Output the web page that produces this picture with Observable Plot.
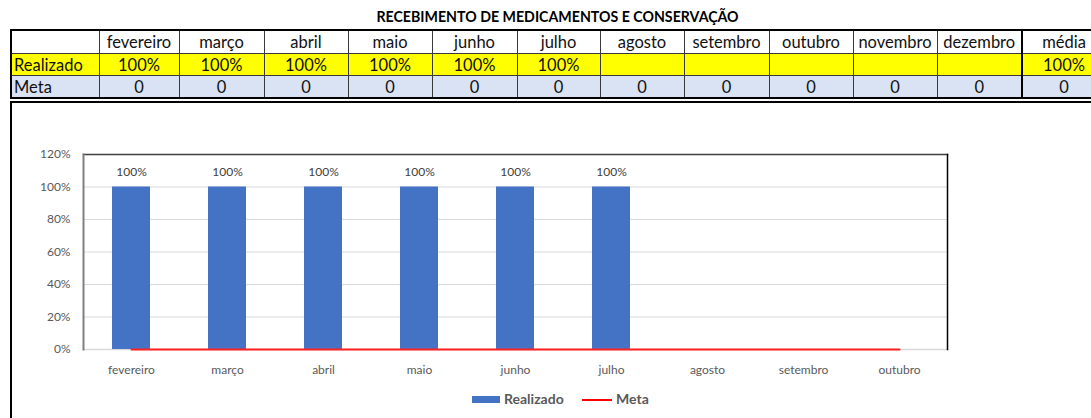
<!DOCTYPE html>
<html>
<head>
<meta charset="utf-8">
<script src="https://cdn.jsdelivr.net/npm/d3@7"></script>
<script src="https://cdn.jsdelivr.net/npm/@observablehq/plot@0.6"></script>
<style>
  html, body { margin: 0; padding: 0; background: #fff; width: 1091px; height: 418px; overflow: hidden; position: relative; font-family: Lato, "Open Sans", sans-serif; }
  #title { position: absolute; left: 10px; top: 8px; width: 1095px; text-align: center; font-weight: bold; font-size: 14.2px; color: #000; line-height: 18px; }
  #tbl { position: absolute; left: 10px; top: 29px; width: 1095px; border-collapse: collapse; table-layout: fixed; font-size: 16.5px; color: #111; }
  #tbl td { border: 1px solid #3a3a3a; padding: 0 2px; text-align: center; white-space: nowrap; overflow: hidden; line-height: 18px; }
  #tbl tr.h td { height: 22px; background: #fff; }
  #tbl tr.r td { height: 21px; background: #ffff00; }
  #tbl tr.m td { height: 21px; background: #dae3f3; }
  #tbl td.lbl { text-align: left; }
  #tbl td.med { border-left: 2px solid #000; }
  #tbl { border: 2px solid #000; }
  #box { position: absolute; left: 10px; top: 101px; width: 1100px; height: 340px; border: 2px solid #000; box-sizing: border-box; }
  #chart { position: absolute; left: 12px; top: 104px; }
  #legend { position: absolute; left: 0; top: 390px; width: 1091px; height: 20px; font-size: 14px; font-weight: bold; color: #595959; }
  #legend .sw { position: absolute; }
  #legend .tx { position: absolute; top: 0; line-height: 18px; }
</style>
</head>
<body>
<div id="title">RECEBIMENTO DE MEDICAMENTOS E CONSERVAÇÃO</div>
<table id="tbl"></table>
<div id="box"></div>
<div id="chart"></div>
<div id="legend">
  <div class="sw" style="left:472px; top:6px; width:28px; height:7px; background:#4472c4;"></div>
  <div class="tx" style="left:504px;">Realizado</div>
  <div class="sw" style="left:582px; top:9px; width:30px; height:2px; background:#ff0000;"></div>
  <div class="tx" style="left:616px;">Meta</div>
</div>
<script>
// ---- data ----
const title = "RECEBIMENTO DE MEDICAMENTOS E CONSERVAÇÃO";
const months = ["fevereiro","março","abril","maio","junho","julho","agosto","setembro","outubro","novembro","dezembro"];
const realizado = [1, 1, 1, 1, 1, 1, null, null, null, null, null];
const meta = [0, 0, 0, 0, 0, 0, 0, 0, 0, 0, 0];
const mediaLabel = "média";
const mediaRealizado = 1;
const mediaMeta = 0;
const chartMonthCount = 9; // fevereiro .. outubro shown in the chart
const yTicks = [0, 0.2, 0.4, 0.6, 0.8, 1.0, 1.2];
const seriesNames = ["Realizado", "Meta"];

const pct = d3.format(".0%");

// ---- table ----
const colWidths = [88, 80, 85, 84, 84, 85, 83, 84, 85, 84, 84, 85, 84];
const tbl = document.getElementById("tbl");
const cg = document.createElement("colgroup");
colWidths.forEach(w => { const c = document.createElement("col"); c.style.width = w + "px"; cg.appendChild(c); });
tbl.appendChild(cg);
function row(cls, first, cells, last) {
  const tr = document.createElement("tr");
  tr.className = cls;
  const f = document.createElement("td"); f.className = "lbl"; f.textContent = first; tr.appendChild(f);
  cells.forEach(v => { const td = document.createElement("td"); td.textContent = v; tr.appendChild(td); });
  const l = document.createElement("td"); l.className = "med"; l.textContent = last; tr.appendChild(l);
  tbl.appendChild(tr);
}
row("h", "", months, mediaLabel);
row("r", seriesNames[0], realizado.map(v => v == null ? "" : pct(v)), pct(mediaRealizado));
row("m", seriesNames[1], meta.map(v => String(v)), String(mediaMeta));

// ---- chart ----
const chartMonths = months.slice(0, chartMonthCount);
const data = chartMonths.map((m, i) => ({month: m, realizado: realizado[i], meta: meta[i]}));

const chart = Plot.plot({
  width: 1079,
  height: 314,
  marginLeft: 71,
  marginTop: 50,
  marginRight: 144,
  marginBottom: 69,
  style: {fontFamily: "Lato, 'Open Sans', sans-serif", fontSize: "12px", color: "#595959", background: "transparent", overflow: "visible"},
  x: {domain: chartMonths, paddingInner: 0.6, paddingOuter: 0.3, label: null},
  y: {domain: [0, 1.2], label: null},
  marks: [
    Plot.gridY(yTicks.slice(1, -1), {stroke: "#d9d9d9", strokeOpacity: 1}),
    Plot.frame({anchor: "bottom", stroke: "#d9d9d9", strokeOpacity: 1, strokeWidth: 1.5}),
    Plot.frame({anchor: "top", stroke: "#404040", strokeOpacity: 1, strokeWidth: 1.5}),
    Plot.frame({anchor: "right", stroke: "#000", strokeOpacity: 1, strokeWidth: 1.5}),
    Plot.frame({anchor: "left", stroke: "#7f7f7f", strokeOpacity: 1, strokeWidth: 2}),
    Plot.barY(data, {x: "month", y: "realizado", fill: "#4472c4", filter: d => d.realizado != null}),
    Plot.lineY(data, {x: "month", y: "meta", stroke: "#ff2020", strokeWidth: 2}),
    Plot.text(data, {x: "month", y: "realizado", filter: d => d.realizado != null, text: d => pct(d.realizado), dy: -15, fill: "#404040", fontSize: 12}),
    Plot.axisY({ticks: yTicks, tickFormat: pct, tickSize: 0, tickPadding: 13, fill: "#595959", fontSize: 12, label: null}),
    Plot.axisX({tickSize: 0, tickPadding: 16, fill: "#595959", fontSize: 12, label: null})
  ]
});
document.getElementById("chart").appendChild(chart);
</script>
</body>
</html>
